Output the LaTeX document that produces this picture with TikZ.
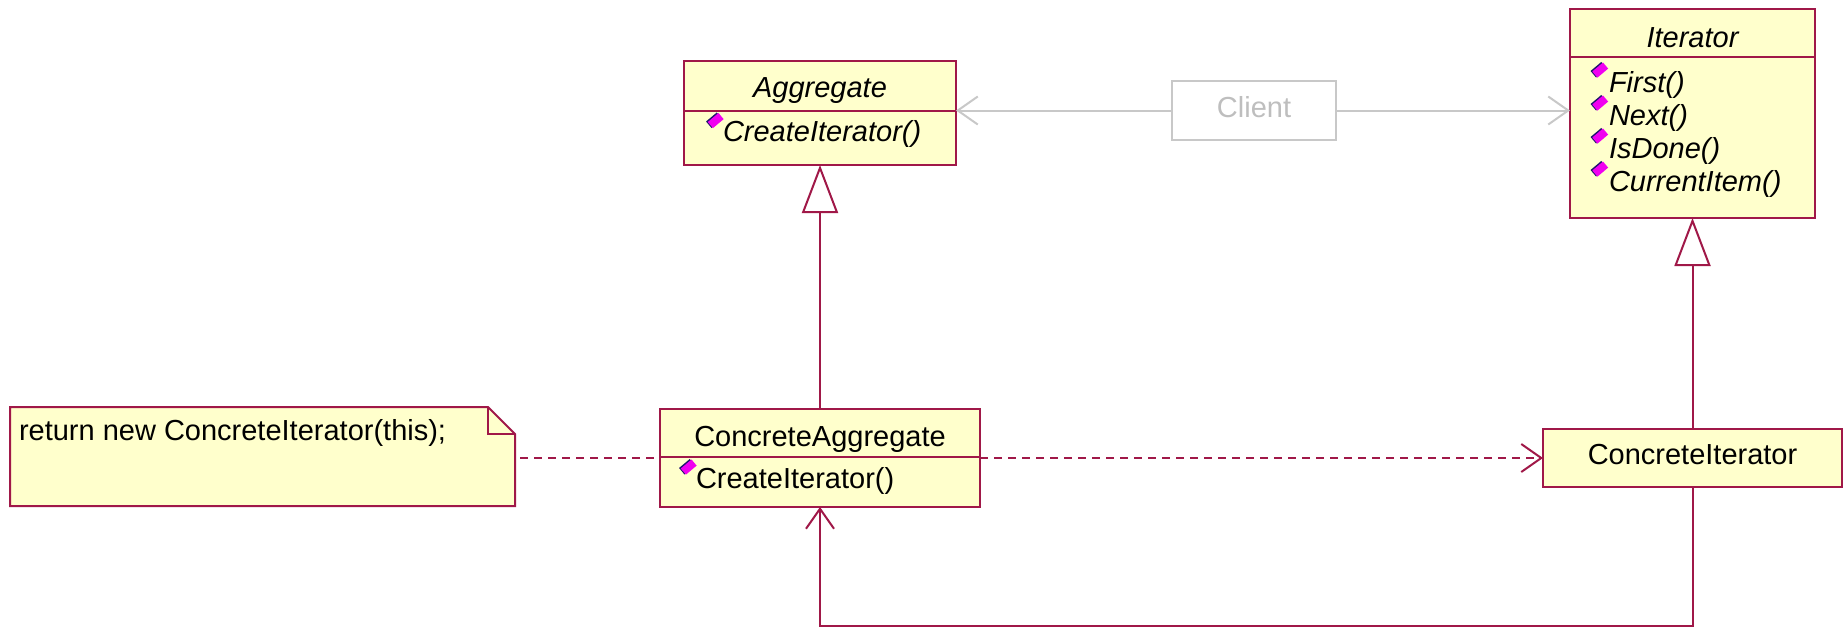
\documentclass[tikz,border=0pt]{standalone}
\usepackage{fontspec}
\setmainfont{Liberation Sans}
\usetikzlibrary{arrows.meta,calc}
\definecolor{umlborder}{RGB}{160,24,72}
\definecolor{umlfill}{RGB}{255,255,204}
\definecolor{clientgrey}{RGB}{200,200,200}
\definecolor{clienttext}{RGB}{190,190,190}
\definecolor{opmag}{RGB}{240,0,240}
\definecolor{opnavy}{RGB}{30,20,110}

\tikzset{
  umlbox/.style={draw=umlborder, fill=umlfill, line width=2pt, inner sep=0pt, outer sep=0pt},
  border/.style={draw=umlborder, line width=2pt},
  lbl/.style={font=\fontsize{29}{34}\selectfont, inner sep=0pt, outer sep=0pt, text=black},
  ital/.style={font=\fontsize{29}{34}\selectfont\itshape},
  title/.style={lbl, anchor=base},
  member/.style={lbl, anchor=base west},
  opicon/.pic={
    \fill[opnavy, rotate=40] (-7.5,-5) rectangle (6.5,3.5);
    \fill[opmag, rotate=40] (-6.5,-3.5) rectangle (7.5,4.5);},
  assoc/.style={draw=umlborder, line width=2pt},
  dep/.style={assoc, dash pattern=on 8pt off 6pt},
  openhead/.style={-{Straight Barb[length=20pt, width=28pt]}},
  genhead/.style={-{Triangle[length=48pt, width=36pt, fill=white]}},
  clientlink/.style={draw=clientgrey, line width=2pt, openhead},
}

\begin{document}
\begin{tikzpicture}[x=1pt, y=-1pt]
\useasboundingbox (0,0) rectangle (1843,629);

% Aggregate (abstract)
\node[umlbox, minimum width=272pt, minimum height=104pt] (agg) at (820,113) {};
\draw[border] (agg.west |- 0,111) -- (agg.east |- 0,111);
\node[title, ital] (aggname) at (820,97) {Aggregate};
\pic at (715,120.5) {opicon};
\node[member, ital] (aggop) at (723,141) {CreateIterator()};

% Iterator (abstract)
\node[umlbox, minimum width=245pt, minimum height=209pt] (it) at (1692.5,113.5) {};
\draw[border] (it.west |- 0,57) -- (it.east |- 0,57);
\node[title, ital] (itname) at (1692.5,47) {Iterator};
\pic at (1599.5,70) {opicon};
\node[member, ital] (itfirst) at (1609,92) {First()};
\pic at (1599.5,103) {opicon};
\node[member, ital] (itnext) at (1609,125) {Next()};
\pic at (1599.5,136) {opicon};
\node[member, ital] (itdone) at (1609,158) {IsDone()};
\pic at (1599.5,169) {opicon};
\node[member, ital] (itcur) at (1609,191) {CurrentItem()};

% Client
\node[draw=clientgrey, line width=2pt, minimum width=164pt, minimum height=59pt,
      inner sep=0pt, outer sep=0pt] (client) at (1254,110.5) {};
\node[title, text=clienttext] (clientname) at (1254,117) {Client};

% ConcreteAggregate
\node[umlbox, minimum width=320pt, minimum height=98pt] (ca) at (820,458) {};
\draw[border] (ca.west |- 0,457) -- (ca.east |- 0,457);
\node[title] (caname) at (820,446) {ConcreteAggregate};
\pic at (688,467) {opicon};
\node[member] (caop) at (696,488) {CreateIterator()};

% ConcreteIterator
\node[umlbox, minimum width=299pt, minimum height=58pt] (ci) at (1692.5,458) {};
\node[title] (ciname) at (1692.5,464) {ConcreteIterator};

% Note with folded corner
\node[minimum width=505pt, minimum height=99pt, inner sep=0pt, outer sep=0pt] (note) at (262.5,456.5) {};
\draw[umlbox] (note.north west) -- ($(note.north east)+(-27,0)$) -- ($(note.north east)+(0,27)$)
  -- (note.south east) -- (note.south west) -- cycle;
\draw[border] ($(note.north east)+(-27,0)$) -- ($(note.north east)+(-27,27)$) -- ($(note.north east)+(0,27)$);
\node[member] (notetext) at (19,440) {return new ConcreteIterator(this);};

% Connectors
\draw[clientlink] (client.west) -- (client.west -| agg.east);
\draw[clientlink] (client.east) -- (client.east -| it.west);
\draw[assoc, genhead] (ca.north) -- (agg.south);
\draw[assoc, genhead] (ci.north) -- (it.south);
\draw[dep] ($(note.east)+(5,1.5)$) -- (ca.west);
\draw[dep, openhead] (ca.east) -- (ci.west);
\draw[assoc, openhead] (ci.south) -- ++(0,139) -| (ca.south);
\end{tikzpicture}
\end{document}
